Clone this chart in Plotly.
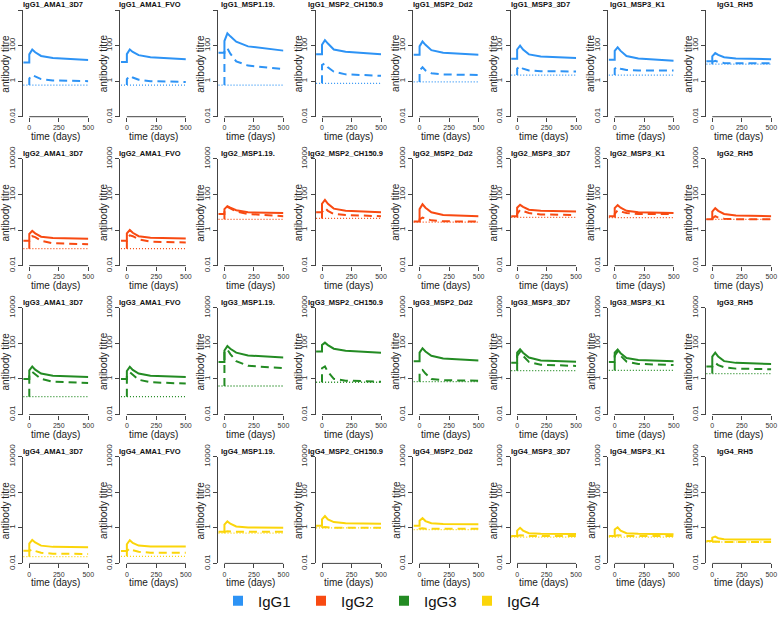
import plotly.graph_objects as go

# ---------------- data ----------------
isotypes = ["IgG1", "IgG2", "IgG3", "IgG4"]
antigens = ["AMA1_3D7", "AMA1_FVO", "MSP1.19.", "MSP2_CH150.9",
            "MSP2_Dd2", "MSP3_3D7", "MSP3_K1", "RH5"]
colors = ["#2d93f5", "#f84a12", "#238b23", "#fbd50a"]

time_solid = [-50, 0, 0, 25, 50, 100, 200, 500]
time_dashed = [0, 0, 25, 50, 100, 200, 500]
time_dotted = [-50, 500]
x_ticks = [0, 250, 500]
y_ticks = [0.01, 1, 100, 10000]
y_tick_text = ["0.01", "1", "100", "10000"]

# solid: pre-exposure level, level after jump at day 0, peak, then decay
igg1_solid = [
    [11, 11, 32, 60, 42, 26, 20, 15.5],
    [12, 12, 33, 60, 44, 29, 22, 17],
    [40, 40, 180, 490, 330, 165, 90, 52],
    [32, 32, 110, 200, 130, 60, 45, 32],
    [30, 30, 90, 170, 110, 55, 40, 30],
    [18, 18, 60, 100, 60, 32, 24, 20],
    [16, 16, 50, 80, 50, 26, 19, 14],
    [13, 13, 25, 38, 30, 22, 19, 17],
]
igg1_dashed = [
    [0.6, 1.4, 2.2, 1.8, 1.3, 1.1, 1.0],
    [0.6, 1.3, 2.0, 1.6, 1.2, 1.0, 0.9],
    [0.6, 56, 70, 35, 13, 7.5, 4.7],
    [0.75, 8, 10, 6, 3.4, 2.4, 2.0],
    [0.9, 4, 6, 4, 2.8, 2.4, 2.2],
    [2.2, 5, 7, 5, 4, 3.6, 3.5],
    [2.2, 5, 6.5, 5, 4.2, 4, 4],
    [9, 12, 14, 12, 10.5, 10, 10],
]
igg1_dotted = [0.6, 0.6, 0.6, 0.75, 0.9, 2.2, 2.2, 9]

igg2_solid = [
    [0.25, 0.25, 0.6, 0.9, 0.65, 0.42, 0.36, 0.32],
    [0.25, 0.25, 0.65, 1.0, 0.7, 0.45, 0.37, 0.33],
    [8, 8, 15, 22, 18, 13, 10, 9],
    [10, 10, 30, 50, 30, 16, 12, 10],
    [3, 3, 15, 28, 18, 10, 7, 6],
    [6, 6, 18, 26, 20, 14, 12, 11],
    [6, 6, 17, 25, 18, 12, 10, 9],
    [4, 4, 11, 17, 12, 8, 6.5, 6],
]
igg2_dashed = [
    [0.09, 0.3, 0.45, 0.4, 0.25, 0.18, 0.16],
    [0.09, 0.3, 0.5, 0.45, 0.3, 0.22, 0.2],
    [4, 12, 20, 16, 11, 8, 6],
    [4.5, 10, 17, 12, 8, 7, 6],
    [2.8, 4, 5, 4.5, 3.5, 3.1, 3],
    [5.2, 8, 13.5, 12, 9, 7.5, 7],
    [5, 8, 13, 11, 9, 8, 8],
    [4, 4.5, 6, 5, 4.3, 4, 4],
]
igg2_dotted = [0.09, 0.09, 4, 4.5, 2.8, 5.2, 5, 4]

igg3_solid = [
    [1.0, 1.0, 3, 5, 3.3, 2, 1.5, 1.3],
    [1.0, 1.0, 2.8, 4.8, 3.2, 2, 1.5, 1.3],
    [9, 9, 40, 70, 50, 30, 21, 16],
    [35, 35, 80, 110, 80, 50, 38, 30],
    [10, 10, 30, 53, 35, 20, 14, 11],
    [8, 8, 30, 47, 30, 16, 11, 9.4],
    [9, 9, 30, 45, 28, 15, 11.5, 10],
    [5, 5, 18, 30, 18, 10, 8, 7],
]
igg3_dashed = [
    [0.1, 1.5, 2.5, 1.8, 1.0, 0.7, 0.6],
    [0.1, 1.4, 2.4, 1.7, 0.9, 0.65, 0.55],
    [0.4, 33, 45, 25, 10, 5.5, 4],
    [0.65, 4, 5, 2.5, 1.0, 0.8, 0.7],
    [0.7, 2.6, 3.2, 2, 1.0, 0.85, 0.8],
    [2.9, 20, 34, 20, 9, 6.3, 5.4],
    [3, 20, 35, 20, 9.5, 7, 6],
    [2, 5, 8, 6, 4.5, 3.8, 3.5],
]
igg3_dotted = [0.1, 0.1, 0.4, 0.65, 0.7, 2.9, 3, 2]

igg4_solid = [
    [0.052, 0.052, 0.13, 0.21, 0.15, 0.1, 0.085, 0.08],
    [0.05, 0.05, 0.12, 0.2, 0.14, 0.1, 0.09, 0.09],
    [0.6, 0.6, 1.5, 2.3, 1.7, 1.2, 1.05, 1.0],
    [1.3, 1.3, 3, 4.6, 3, 2.1, 1.8, 1.7],
    [1.3, 1.3, 2.5, 3.5, 2.4, 1.8, 1.65, 1.6],
    [0.35, 0.35, 0.7, 1.0, 0.7, 0.5, 0.46, 0.45],
    [0.35, 0.35, 0.8, 1.07, 0.7, 0.5, 0.46, 0.44],
    [0.18, 0.18, 0.28, 0.32, 0.26, 0.23, 0.22, 0.22],
]
igg4_dashed = [
    [0.024, 0.05, 0.063, 0.05, 0.04, 0.035, 0.034],
    [0.025, 0.05, 0.07, 0.055, 0.045, 0.04, 0.04],
    [0.5, 0.6, 0.65, 0.62, 0.6, 0.6, 0.6],
    [1.0, 1.05, 1.1, 1.05, 1.0, 1.0, 1.0],
    [0.8, 0.9, 0.95, 0.9, 0.9, 0.9, 0.9],
    [0.3, 0.35, 0.38, 0.36, 0.35, 0.35, 0.35],
    [0.3, 0.35, 0.38, 0.36, 0.35, 0.35, 0.35],
    [0.16, 0.165, 0.17, 0.165, 0.16, 0.16, 0.16],
]
igg4_dotted = [0.024, 0.025, 0.5, 1.0, 0.8, 0.3, 0.3, 0.16]

solid_sets = [igg1_solid, igg2_solid, igg3_solid, igg4_solid]
dashed_sets = [igg1_dashed, igg2_dashed, igg3_dashed, igg4_dashed]
dotted_sets = [igg1_dotted, igg2_dotted, igg3_dotted, igg4_dotted]

# ---------------- layout geometry (pixels) ----------------
W, H = 778, 619
COL_PITCH = 97.57
ROW_PITCH = 148.9
X_LEFT0, X_RIGHT0 = 22.8, 88.3      # plot region of first column
Y_TOP0, Y_BOT0 = 10.0, 116.7        # plot region of first row
AXIS_COLOR = "#444444"
FONT = "Liberation Sans, Arial, sans-serif"

fig = go.Figure()
layout = {}
annotations = []
shapes = []

for r in range(4):
    for c in range(8):
        k = r * 8 + c + 1
        xs = "x" if k == 1 else f"x{k}"
        ys = "y" if k == 1 else f"y{k}"
        left = X_LEFT0 + COL_PITCH * c
        right = X_RIGHT0 + COL_PITCH * c
        top = Y_TOP0 + ROW_PITCH * r
        bot = Y_BOT0 + ROW_PITCH * r
        col = colors[r]

        fig.add_trace(go.Scatter(
            x=time_dotted, y=[dotted_sets[r][c]] * len(time_dotted),
            mode="lines", line=dict(color=col, width=1.3, dash="1px,2px"),
            xaxis=xs, yaxis=ys, showlegend=False, hoverinfo="skip"))
        fig.add_trace(go.Scatter(
            x=time_dashed, y=dashed_sets[r][c],
            mode="lines", line=dict(color=col, width=2, dash="8px,5px"),
            xaxis=xs, yaxis=ys, showlegend=False, hoverinfo="skip"))
        fig.add_trace(go.Scatter(
            x=time_solid, y=solid_sets[r][c],
            mode="lines", line=dict(color=col, width=2),
            xaxis=xs, yaxis=ys, showlegend=False, hoverinfo="skip"))

        xkey = "xaxis" if k == 1 else f"xaxis{k}"
        ykey = "yaxis" if k == 1 else f"yaxis{k}"
        layout[xkey] = dict(
            domain=[left / W, right / W], range=[-55, 500], anchor=ys,
            tickvals=x_ticks, ticks="outside", ticklen=4, tickcolor=AXIS_COLOR,
            tickfont=dict(size=7, color="#333333", family=FONT),
            showline=False, showgrid=False, zeroline=False, fixedrange=True,
            automargin=False)
        layout[ykey] = dict(
            domain=[1 - bot / H, 1 - top / H], type="log", range=[-2, 4],
            anchor=xs, tickvals=y_ticks, ticktext=y_tick_text,
            ticks="outside", ticklen=4, tickcolor=AXIS_COLOR, tickangle=-90,
            tickfont=dict(size=8, color="#333333", family=FONT),
            showline=True, linecolor=AXIS_COLOR, linewidth=1,
            showgrid=False, zeroline=False, fixedrange=True,
            automargin=False)

        # x axis line spanning only the tick range (R style)
        shapes.append(dict(type="line", xref=xs, yref=f"{ys} domain",
                           x0=0, x1=500, y0=0, y1=0,
                           line=dict(color=AXIS_COLOR, width=1)))

        # panel title
        annotations.append(dict(
            text=f"<b>{isotypes[r]}_{antigens[c]}</b>", xref="paper", yref="paper",
            x=(left + 29.7) / W, y=1 - (top - 5) / H, showarrow=False,
            xanchor="center", yanchor="middle",
            font=dict(size=7.5, color="#111111", family=FONT)))
        # y title
        annotations.append(dict(
            text="antibody titre", xref="paper", yref="paper",
            x=(left - 17.5) / W, y=1 - ((top + bot) / 2) / H, showarrow=False,
            textangle=-90, xanchor="center", yanchor="middle",
            font=dict(size=10, color="#222222", family=FONT)))
        # x title
        annotations.append(dict(
            text="time (days)", xref="paper", yref="paper",
            x=(left + right) / 2 / W, y=1 - (bot + 19.5) / H, showarrow=False,
            xanchor="center", yanchor="middle",
            font=dict(size=10, color="#222222", family=FONT)))

# legend entries
for name, col in zip(isotypes, colors):
    fig.add_trace(go.Scatter(
        x=[None], y=[None], mode="markers", name=name,
        marker=dict(symbol="square", size=10, color=col),
        showlegend=True, hoverinfo="skip"))

fig.update_layout(
    width=W, height=H,
    margin=dict(l=0, r=0, t=0, b=0, autoexpand=False),
    paper_bgcolor="white", plot_bgcolor="white",
    font=dict(family=FONT),
    annotations=annotations, shapes=shapes,
    hovermode=False,
    legend=dict(orientation="h", x=218 / W, y=1 - 601 / H,
                xanchor="left", yanchor="middle",
                font=dict(size=15, color="#111111", family=FONT),
                entrywidth=38, entrywidthmode="pixels",
                bgcolor="rgba(0,0,0,0)", itemclick=False),
    **layout)

fig.write_html(
    "out.html",
    config={"displayModeBar": False, "staticPlot": True},
    post_script="document.body.style.margin='0px';"
                "document.body.style.overflow='hidden';")
